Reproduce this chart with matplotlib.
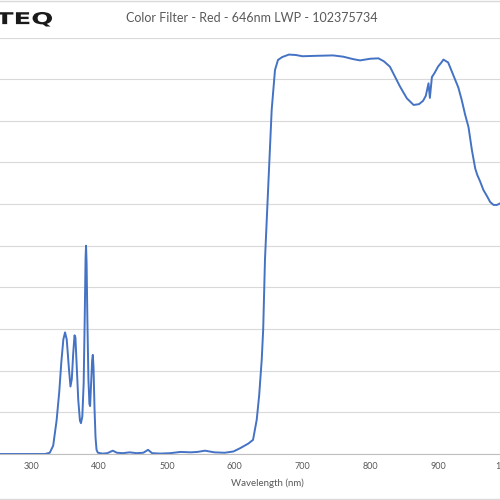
import matplotlib
matplotlib.use("Agg")
import matplotlib.pyplot as plt
from matplotlib.lines import Line2D
from matplotlib.textpath import TextPath
from matplotlib.patches import PathPatch
from matplotlib.font_manager import FontProperties
from matplotlib.transforms import Affine2D

# transmission spectrum (nm, %)
wavelength = [250, 320, 327, 332, 337, 341, 344, 347, 349.5, 352, 355, 357.5,
              359.5, 361.5, 363.5, 364.8, 366.5, 369, 371.5, 373, 375, 377,
              378.5, 379.8, 380.5, 381.3, 382.5, 384, 385.5, 386.5, 388, 389.5,
              390.5, 391.5, 393, 394.5, 396, 398, 405, 412, 420, 426, 435, 445,
              455, 465, 472, 478, 490, 505, 520, 535, 545, 556, 570, 585, 598,
              608, 620, 627, 632.4, 636, 639.8, 642, 644.6, 649, 654.5, 659.4,
              663.8, 670, 680, 690, 700, 720, 745, 760, 775, 785, 800, 812, 820,
              829, 844, 854, 864, 872, 878, 882, 886, 888, 891, 895, 900, 905,
              908, 912, 915, 920, 925, 930, 935, 940, 945, 950, 955, 958, 962,
              967, 972, 977, 982, 987, 992, 1000, 1010]
transmission = [0.0, 0.0, 0.3, 2, 8, 15, 22, 27.5, 29.2, 27.5, 21, 16.2,
                18, 24, 28.5, 28, 22, 13, 8, 7.4, 9, 17,
                32, 47, 50, 46, 32, 18, 12, 11.5, 17, 22.5,
                23.8, 21, 11, 4, 1, 0.3, 0.1, 0.2, 0.8, 0.3, 0.2, 0.4,
                0.2, 0.3, 1.0, 0.2, 0.1, 0.2, 0.5, 0.4, 0.5, 0.8, 0.4, 0.3, 0.6,
                1.4, 2.5, 3.4, 8.2, 14, 22.6, 30, 46.6, 62.7, 82.6, 92.2,
                94.6, 95.3, 95.9, 95.8, 95.5, 95.6, 95.7, 95.4, 94.8, 94.5, 94.9, 95.0, 94.3,
                93, 88.2, 85.4, 83.8, 84, 84.8, 86, 89, 85.5, 90.5, 91.5, 93, 94,
                94.7, 94.3, 94, 92, 90, 88, 85, 81.5, 78.5, 73, 68.5, 67, 65.5,
                63.4, 62, 60.5, 59.8, 59.8, 60.2, 61, 62]

xticks = [300, 400, 500, 600, 700, 800, 900, 1000]
yticks = list(range(0, 101, 10))

title = "Color Filter - Red - 646nm LWP - 102375734"
font = "Lato"

fig = plt.figure(figsize=(5, 5), dpi=100)
# the plot area runs past both sides of the picture (it is a crop)
ax = fig.add_axes([-0.0725, 0.092, 1.2195, 0.833])
ax.plot(wavelength, transmission, color="#4472C4", lw=1.4)

ax.set_xlim(200, 1100)
ax.set_ylim(0, 100)
ax.set_xticks(xticks)
ax.set_yticks(yticks)
ax.yaxis.grid(True, color="#d9d9d9", lw=0.8)
ax.set_axisbelow(True)
for s in ["top", "left", "right"]:
    ax.spines[s].set_visible(False)
ax.spines["bottom"].set_color("#bfbfbf")
ax.tick_params(length=0, labelleft=False, pad=6, labelsize=6.5, labelcolor="#595959")
for lbl in ax.get_xticklabels():
    lbl.set_family(font)

fig.text(267.5 / 500, 1 - 483 / 500, "Wavelength (nm)", ha="center", va="center",
         fontsize=7, color="#595959", family=font)
fig.text(252 / 500, 1 - 18 / 500, title, ha="center", va="center",
         fontsize=9, color="#595959", family=font)

# logo, stretched wide (left part cut off by the crop)
tp = TextPath((0, 0), "TEQ", size=10, prop=FontProperties(family="DejaVu Sans", weight="bold"))
ext = tp.get_extents()
logo_tr = (Affine2D().translate(-ext.x0, -ext.y0)
           .scale(56 / 500 / ext.width, 14.5 / 500 / ext.height)
           .translate(-4 / 500, 1 - 26.5 / 500))
fig.add_artist(PathPatch(logo_tr.transform_path(tp), transform=fig.transFigure,
                         color="#1a1a1a", lw=0))

# chart area border (top and bottom visible)
fig.add_artist(Line2D([0, 1], [0.998, 0.998], color="#d9d9d9", lw=1))
fig.add_artist(Line2D([0, 1], [0.003, 0.003], color="#d9d9d9", lw=1))

fig.savefig("out.png", dpi=100)
